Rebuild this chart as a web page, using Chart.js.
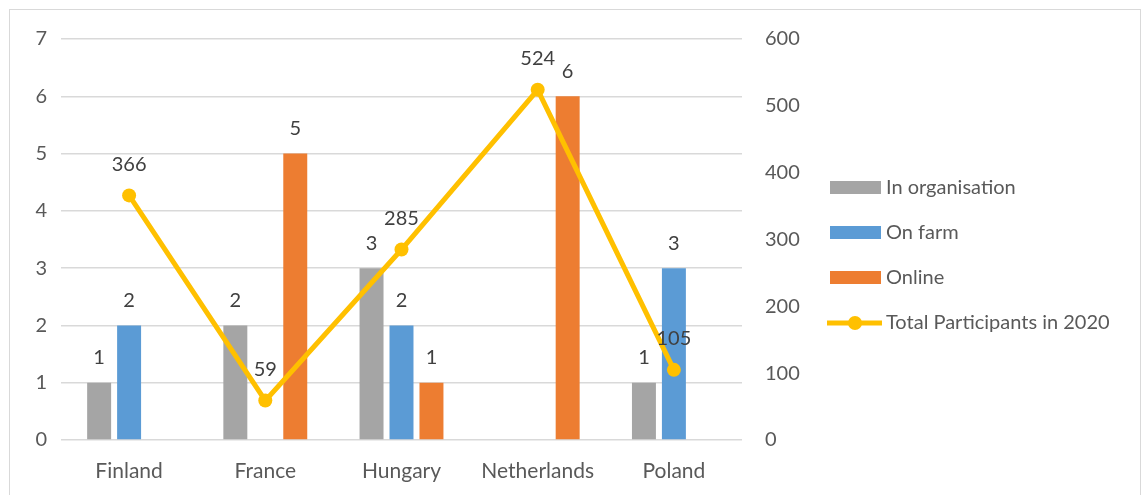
<!DOCTYPE html>
<html>
<head>
<meta charset="utf-8">
<script src="https://cdn.jsdelivr.net/npm/chart.js@4/dist/chart.umd.min.js"></script>
<style>
  html, body { margin: 0; padding: 0; background: #fff; }
  #wrap { width: 1146px; height: 495px; }
</style>
</head>
<body>
<div id="wrap"><canvas id="myChart" width="1146" height="495"></canvas></div>
<script>
var countries = ['Finland', 'France', 'Hungary', 'Netherlands', 'Poland'];
var inOrganisation = [1, 2, 3, null, 1];
var onFarm = [2, null, 2, null, 3];
var online = [null, 5, 1, 6, null];
var totalParticipants = [366, 59, 285, 524, 105];
var leftTicks = [0, 1, 2, 3, 4, 5, 6, 7];
var rightTicks = [0, 100, 200, 300, 400, 500, 600];

var FONT = 'Lato, "Open Sans", sans-serif';
var TEXT = '#595959';

// labels above bars/points + legend drawn by hand
var extras = {
	id: 'extras',
	beforeDraw: function(chart) {
		var c = chart.ctx;
		c.save();
		c.strokeStyle = '#d9d9d9';
		c.lineWidth = 1;
		c.strokeRect(9.5, 9.5, 1131, 520);
		c.restore();
	},
	afterDatasetsDraw: function(chart) {
		var c = chart.ctx;
		c.save();
		c.font = '20px ' + FONT;
		c.fillStyle = '#404040';
		c.textAlign = 'center';
		c.textBaseline = 'middle';
		chart.data.datasets.forEach(function(ds, i) {
			var meta = chart.getDatasetMeta(i);
			meta.data.forEach(function(el, j) {
				var v = ds.data[j];
				if (v === null) return;
				if (ds.type === 'line') {
					c.fillText(v, el.x, el.y - 31);
				} else {
					c.fillText(v, el.x, el.y - 25);
				}
			});
		});

		// legend
		var x = 830, ys = [188, 233, 278, 323];
		c.textAlign = 'left';
		c.fillStyle = TEXT;
		chart.data.datasets.forEach(function(ds, i) {
			var y = ys[i];
			if (ds.type === 'line') {
				c.strokeStyle = ds.borderColor;
				c.lineWidth = 5;
				c.beginPath();
				c.moveTo(x - 3, y);
				c.lineTo(x + 52, y);
				c.stroke();
				c.fillStyle = ds.borderColor;
				c.beginPath();
				c.arc(x + 25, y, 7, 0, Math.PI * 2);
				c.fill();
			} else {
				c.fillStyle = ds.backgroundColor;
				c.fillRect(x, y - 7, 51, 13);
			}
			c.fillStyle = TEXT;
			c.fillText(ds.label, x + 56, y);
		});
		c.restore();
	}
};

var chartdata = {
	labels: countries,
	datasets: [
		{
			label: 'In organisation',
			type: 'bar',
			backgroundColor: '#a5a5a5',
			data: inOrganisation,
			yAxisID: 'y',
			order: 2
		},
		{
			label: 'On farm',
			type: 'bar',
			backgroundColor: '#5b9bd5',
			data: onFarm,
			yAxisID: 'y',
			order: 2
		},
		{
			label: 'Online',
			type: 'bar',
			backgroundColor: '#ed7d31',
			data: online,
			yAxisID: 'y',
			order: 2
		},
		{
			label: 'Total Participants in 2020',
			type: 'line',
			borderColor: '#ffc000',
			backgroundColor: '#ffc000',
			borderWidth: 5,
			pointRadius: 7,
			pointBackgroundColor: '#ffc000',
			pointBorderWidth: 0,
			tension: 0,
			data: totalParticipants,
			yAxisID: 'y1',
			order: 0
		}
	]
};

var ctx = document.getElementById('myChart');

var myChart = new Chart(ctx, {
	data: chartdata,
	plugins: [extras],
	options: {
		responsive: false,
		animation: false,
		layout: { padding: { top: 39, right: 334, left: 0, bottom: 0 } },
		datasets: {
			bar: { categoryPercentage: 0.66, barPercentage: 0.8 }
		},
		plugins: {
			legend: { display: false },
			tooltip: { enabled: false }
		},
		scales: {
			x: {
				grid: { display: false, drawTicks: false },
				border: { display: false },
				ticks: { color: TEXT, font: { size: 21, family: FONT }, padding: 19 },
				afterFit: function(s) { s.height = 55; }
			},
			y: {
				position: 'left',
				min: 0,
				max: 7,
				afterBuildTicks: function(s) { s.ticks = leftTicks.map(function(v) { return { value: v }; }); },
				grid: { color: '#d9d9d9', lineWidth: 1.5, drawTicks: false },
				border: { display: false },
				ticks: { color: TEXT, font: { size: 20, family: FONT }, padding: 14 },
				afterFit: function(s) { s.width = 61; }
			},
			y1: {
				position: 'right',
				min: 0,
				max: 600,
				afterBuildTicks: function(s) { s.ticks = rightTicks.map(function(v) { return { value: v }; }); },
				grid: { display: false, drawTicks: false },
				border: { display: false },
				ticks: { color: TEXT, font: { size: 20, family: FONT }, padding: 23 },
				afterFit: function(s) { s.width = 70; }
			}
		}
	}
});
</script>
</body>
</html>
